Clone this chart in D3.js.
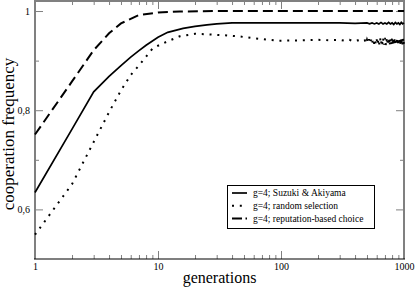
<!DOCTYPE html>
<meta charset="utf-8">
<html>
<head>
<style>
  body { margin: 0; background: #fff; }
  svg { display: block; font-family: "Liberation Serif", "Times New Roman", serif; }
  .frame path, .frame line { stroke: #808080; }
</style>
<script src="https://d3js.org/d3.v7.min.js"></script>
</head>
<body>
<svg width="415" height="289"></svg>
<script>
// data: generation and cooperation frequency
var suzukiGen = [1, 2, 3, 4, 5, 6, 7, 8, 10, 12, 16, 20, 25, 30, 40, 60, 100, 200, 300, 400,
                 500, 525, 550, 575, 600, 625, 650, 675, 700, 725, 750, 775, 800, 825, 850, 875, 900, 925, 950, 975, 1000];
var suzukiVal = [0.634, 0.762, 0.837, 0.868, 0.890, 0.907, 0.920, 0.931, 0.947, 0.957, 0.965, 0.969, 0.972, 0.974, 0.976, 0.976, 0.976, 0.976, 0.976, 0.975,
                 0.976, 0.974, 0.976, 0.974, 0.976, 0.974, 0.977, 0.974, 0.976, 0.974, 0.977, 0.974, 0.976, 0.973, 0.977, 0.974, 0.976, 0.973, 0.977, 0.974, 0.976];

var randomGen = [1, 2, 3, 4, 5, 6, 7, 8, 9, 10, 12, 15, 20, 25, 35, 45, 60, 95, 150, 200, 250,
                 300, 330, 360, 390, 420, 450,
                 480, 490, 500, 510, 520, 530, 540, 550, 560, 570, 580, 590, 600, 610, 620, 630, 640, 650, 660, 670, 680, 690,
                 700, 710, 720, 730, 740, 750, 760, 770, 780, 790, 800, 810, 820, 830, 840, 850, 860, 870, 880, 890,
                 900, 910, 920, 930, 940, 950, 960, 970, 980, 990, 1000];
var randomVal = [0.549, 0.651, 0.736, 0.796, 0.840, 0.871, 0.890, 0.908, 0.924, 0.930, 0.939, 0.949, 0.954, 0.953, 0.951, 0.949, 0.945, 0.940, 0.941, 0.942, 0.941,
                 0.942, 0.940, 0.942, 0.939, 0.941, 0.938,
                 0.941, 0.934, 0.942, 0.935, 0.943, 0.934, 0.942, 0.933, 0.943, 0.934, 0.944, 0.933, 0.943, 0.932, 0.944, 0.933, 0.945, 0.932, 0.944, 0.931, 0.945, 0.932,
                 0.946, 0.931, 0.945, 0.932, 0.946, 0.931, 0.945, 0.930, 0.946, 0.931, 0.947, 0.930, 0.946, 0.931, 0.947, 0.930, 0.946, 0.931, 0.947, 0.930,
                 0.946, 0.931, 0.947, 0.930, 0.946, 0.931, 0.947, 0.930, 0.946, 0.931, 0.944];

var reputGen = [1, 2, 3, 4, 5, 7, 10, 15, 30, 1000];
var reputVal = [0.751, 0.858, 0.921, 0.955, 0.975, 0.992, 0.997, 0.999, 1.0, 1.0];

var xMajor = [1, 10, 100, 1000];
var xMinor = [2, 3, 4, 5, 6, 7, 8, 9, 20, 30, 40, 50, 60, 70, 80, 90, 200, 300, 400, 500, 600, 700, 800, 900];
var yMajor = [0.6, 0.8, 1];
var yMinor = [0.7, 0.9];

var legendLabels = ["g=4; Suzuki & Akiyama", "g=4; random selection", "g=4; reputation-based choice"];

var svg = d3.select("svg");
var padL = 35, padR = 404, padT = 1, padB = 259;

var x = d3.scaleLog().domain([1, 1000]).range([padL, padR]);
var y = d3.scaleLinear().domain([0.5, 1.0202]).range([padB, padT]);

function fmt(d) { return String(d).replace(".", ","); }

// minor ticks on all sides
svg.append("g").attr("class", "frame").attr("transform", "translate(0," + padB + ")")
   .call(d3.axisBottom(x).tickValues(xMinor).tickSize(-4).tickFormat(""));
svg.append("g").attr("class", "frame").attr("transform", "translate(0," + padT + ")")
   .call(d3.axisTop(x).tickValues(xMinor).tickSize(-4).tickFormat(""));
svg.append("g").attr("class", "frame").attr("transform", "translate(" + padL + ",0)")
   .call(d3.axisLeft(y).tickValues(yMinor).tickSize(-4).tickFormat(""));
svg.append("g").attr("class", "frame").attr("transform", "translate(" + padR + ",0)")
   .call(d3.axisRight(y).tickValues(yMinor).tickSize(-4).tickFormat(""));

// major ticks + labels
svg.append("g").attr("class", "frame").attr("transform", "translate(0," + padT + ")")
   .call(d3.axisTop(x).tickValues(xMajor).tickSize(-8).tickFormat(""));
svg.append("g").attr("class", "frame").attr("transform", "translate(" + padR + ",0)")
   .call(d3.axisRight(y).tickValues(yMajor).tickSize(-8).tickFormat(""));

svg.append("g").attr("class", "frame").attr("transform", "translate(0," + padB + ")")
   .call(d3.axisBottom(x).tickValues(xMajor).tickSize(-8).tickPadding(4).tickFormat(d3.format("d")));
svg.append("g").attr("class", "frame").attr("transform", "translate(" + padL + ",0)")
   .call(d3.axisLeft(y).tickValues(yMajor).tickSize(-8).tickPadding(5).tickFormat(fmt));

svg.selectAll(".frame .domain").remove();
svg.selectAll(".frame text").attr("font-family", "Liberation Serif").attr("font-size", 10).attr("fill", "#000");

// frame
svg.append("path")
   .attr("d", "M" + padL + "," + padB + "V" + padT + "H" + padR + "V" + padB)
   .attr("fill", "none").attr("stroke", "#808080").attr("stroke-width", 2);
svg.append("line")
   .attr("x1", padL - 1).attr("x2", padR + 1).attr("y1", padB).attr("y2", padB)
   .attr("stroke", "#000").attr("stroke-width", 1.2);

var line = d3.line()
   .x(function(d) { return x(d[0]); })
   .y(function(d) { return y(d[1]); });

var series = [
  { gen: suzukiGen, val: suzukiVal, dash: null, width: 1.7 },
  { gen: randomGen, val: randomVal, dash: "2,5.8", width: 2 },
  { gen: reputGen, val: reputVal, dash: "10,5", width: 2 }
];

series.forEach(function(s) {
  svg.append("path")
     .datum(d3.zip(s.gen, s.val))
     .attr("fill", "none")
     .attr("stroke", "#000")
     .attr("stroke-width", s.width)
     .attr("stroke-dasharray", s.dash)
     .attr("d", line);
});

// legend
var lg = svg.append("g");
lg.append("rect")
  .attr("x", 227.5).attr("y", 185.5).attr("width", 147).attr("height", 43)
  .attr("fill", "#fff").attr("stroke", "#000").attr("stroke-width", 1);

legendLabels.forEach(function(t, i) {
  var yy = 193 + i * 12.8;
  lg.append("line")
    .attr("x1", 232).attr("x2", 247).attr("y1", yy).attr("y2", yy)
    .attr("stroke", "#000").attr("stroke-width", series[i].width)
    .attr("stroke-dasharray", i === 2 ? "10,3.5,1.5,50" : series[i].dash);
  lg.append("text")
    .attr("x", 253).attr("y", yy).attr("dy", "0.33em")
    .attr("font-size", 9.5).text(t);
});

// axis titles
svg.append("text")
   .attr("x", (padL + padR) / 2).attr("y", 283)
   .attr("text-anchor", "middle").attr("font-size", 16)
   .text("generations");

svg.append("text")
   .attr("transform", "translate(14," + 134 + ") rotate(-90)")
   .attr("text-anchor", "middle").attr("font-size", 17)
   .text("cooperation frequency");
</script>
</body>
</html>
